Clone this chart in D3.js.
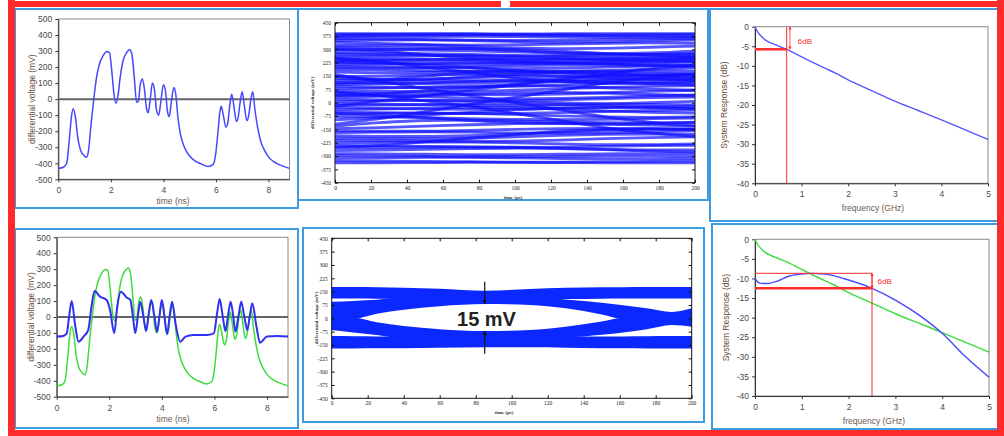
<!DOCTYPE html>
<html>
<head>
<meta charset="utf-8">
<script src="https://cdn.jsdelivr.net/npm/d3@7"></script>
<style>
  body { margin: 0; background: #fff; }
  svg { display: block; }
</style>
</head>
<body>
<script>
// ---------- data ----------
// unequalized differential waveform (time ns, mV)
var origT = [0,0.2,0.32,0.42,0.5,0.57,0.65,0.75,0.85,1.0,1.08,1.15,1.25,1.35,1.45,1.55,1.7,1.85,1.95,2.05,
  2.12,2.2,2.28,2.35,2.45,2.6,2.72,2.8,2.9,2.98,3.05,3.12,3.2,3.28,3.36,3.42,3.5,3.58,3.66,3.74,
  3.82,3.9,4.0,4.08,4.15,4.22,4.3,4.4,4.48,4.55,4.65,4.8,5.0,5.2,5.45,5.7,5.9,6.0,6.08,6.15,
  6.2,6.27,6.38,6.45,6.52,6.6,6.68,6.78,6.85,6.92,7.0,7.08,7.18,7.25,7.32,7.4,7.48,7.58,7.7,7.85,
  8.0,8.2,8.5,8.8];
var origV = [-432,-425,-400,-250,-110,-60,-110,-250,-320,-355,-362,-320,-150,0,130,210,270,298,290,150,
  30,-25,30,130,230,290,308,280,120,-20,-10,90,125,60,-60,-85,0,100,60,-70,
  -100,-20,90,50,-70,-110,-20,72,20,-110,-220,-300,-355,-385,-405,-420,-405,-330,-200,-80,
  -45,-90,-175,-150,-50,30,-40,-140,-110,-20,46,-40,-135,-100,-10,46,-60,-170,-260,-320,
  -360,-390,-415,-432];
// equalized waveform
var eqT = [0,0.25,0.38,0.47,0.57,0.7,0.83,1.02,1.2,1.32,1.44,1.65,1.9,2.03,2.19,2.3,2.44,2.67,2.8,2.9,
  2.99,3.1,3.18,3.3,3.4,3.5,3.6,3.72,3.82,3.92,4.0,4.1,4.2,4.3,4.39,4.52,4.7,4.9,5.2,5.7,
  5.98,6.1,6.2,6.32,6.42,6.52,6.62,6.72,6.8,6.92,7.02,7.14,7.25,7.35,7.44,7.6,7.73,8.0,8.4,8.8];
var eqV = [-123,-119,-103,0,100,-50,-155,-123,-82,60,163,128,107,44,-102,60,159,121,107,2,
  -102,20,96,0,-88,20,107,0,-92,20,107,0,-107,10,96,-40,-155,-123,-113,-113,
  -103,20,113,0,-88,10,96,0,-92,10,96,0,-82,10,86,-60,-161,-123,-119,-123];

// channel loss (GHz, dB)
var lossF = [0,0.05,0.1,0.2,0.35,0.5,0.68,0.85,1,1.25,1.5,1.75,2,2.5,3,3.5,4,4.5,5];
var lossDb = [0,-1.2,-2,-3.2,-4.2,-4.9,-5.77,-6.8,-7.7,-9.2,-10.6,-12,-13.6,-16.3,-19,-21.4,-23.8,-26.3,-28.8];
// equalized system response
var eqF = [0,0.1,0.25,0.45,0.7,1,1.2,1.5,2,2.5,3,3.5,4,4.5,5];
var eqDb = [-10,-11.2,-11.3,-10.8,-9.5,-8.86,-8.7,-8.9,-10.4,-12.5,-15.5,-19.3,-24,-30,-35.2];

// 6dB markers
var cut1 = { f: 0.68, db: -5.77, top: 0 };
var cut2 = { f: 2.5, db: -12.5, top: -8.68 };

// unequalized eye: traces sampled at eyeT (ps, mV)
var eyeT = [0,25,50,75,100,125,150,175,200];
var eyeTraces = [
  [389,389,388,388,387,388,389,389,388],
  [383,384,385,385,384,383,382,383,384],
  [376,378,380,381,380,378,376,375,376],
  [368,370,372,373,372,370,368,367,368],
  [360,358,355,352,351,353,356,359,362],
  [350,352,354,350,344,340,342,348,352],
  [322,324,325,324,326,330,334,336,334],
  [314,312,310,304,294,282,276,280,290],
  [304,300,296,292,286,278,272,270,274],
  [296,298,302,304,300,290,278,268,262],
  [282,280,276,272,266,260,256,254,256],
  [274,270,266,264,262,264,268,272,276],
  [262,264,266,262,256,248,242,240,244],
  [252,250,246,242,240,242,248,254,258],
  [244,240,236,232,228,224,220,222,228],
  [236,238,242,246,248,246,242,238,236],
  [226,222,218,216,218,222,226,230,232],
  [214,216,220,224,226,224,218,212,208],
  [204,202,198,194,192,194,200,206,212],
  [196,194,196,202,208,212,212,208,204],
  [186,184,180,176,174,176,182,188,194],
  [172,168,170,176,180,178,172,166,162],
  [158,132,150,166,172,170,162,154,148],
  [146,150,156,160,158,150,140,132,128],
  [136,130,126,124,128,136,146,154,158],
  [124,128,134,140,146,150,150,146,140],
  [112,110,108,110,116,124,130,134,136],
  [100,104,112,120,124,122,116,108,100],
  [90,86,84,86,92,100,108,114,118],
  [78,82,88,94,96,92,84,76,70],
  [66,64,62,64,70,78,86,92,96],
  [56,52,48,46,44,48,56,64,70],
  [44,40,34,26,22,24,30,38,44],
  [32,36,40,50,56,58,54,46,40],
  [20,16,12,10,12,16,22,28,32],
  [8,10,14,12,6,0,-6,-10,-12],
  [-4,-8,-12,-16,-18,-14,-8,0,8],
  [-16,-14,-10,-6,-6,-10,-18,-26,-30],
  [-28,-32,-36,-38,-36,-32,-28,-24,-20],
  [-40,-36,-30,-26,-28,-36,-46,-54,-58],
  [-52,-56,-60,-62,-60,-56,-50,-44,-40],
  [-64,-60,-58,-60,-66,-74,-80,-82,-80],
  [-78,-80,-84,-90,-94,-96,-94,-90,-86],
  [-132,-112,-100,-98,-102,-108,-112,-114,-112],
  [-146,-140,-132,-124,-118,-116,-120,-126,-132],
  [-158,-160,-160,-156,-150,-146,-144,-146,-150],
  [-168,-166,-164,-166,-170,-172,-170,-164,-158],
  [-200,-202,-204,-200,-192,-184,-178,-176,-178],
  [-212,-214,-216,-218,-216,-210,-202,-196,-192],
  [-226,-224,-222,-222,-226,-232,-236,-236,-232],
  [-240,-242,-246,-250,-252,-250,-246,-242,-240],
  [-254,-252,-250,-248,-250,-256,-262,-266,-266],
  [-286,-288,-290,-292,-292,-290,-288,-286,-286],
  [-298,-300,-302,-304,-304,-302,-300,-300,-302],
  [-312,-310,-308,-308,-310,-314,-316,-316,-314],
  [-326,-328,-330,-332,-334,-334,-332,-330,-328],
  [-338,-338,-337,-336,-336,-337,-338,-338,-338],
  [150,120,80,40,0,-40,-80,-110,-130],
  [-120,-90,-50,-10,30,70,110,140,160],
  [250,230,200,170,140,120,110,108,110],
  [-20,10,40,70,100,130,160,190,210],
  [60,40,10,-20,-60,-100,-140,-170,-190],
  [300,290,270,250,236,230,232,240,250],
  [-250,-240,-220,-200,-180,-160,-150,-146,-150],
  [230,226,214,198,180,166,158,156,160],
  [110,118,130,146,160,170,176,178,176],
  [40,50,66,84,104,118,126,128,124],
  [-60,-70,-84,-100,-112,-118,-120,-116,-110],
  [-96,-84,-70,-54,-40,-30,-26,-28,-34],
  [-186,-190,-190,-186,-178,-166,-156,-150,-148],
  [-270,-266,-262,-258,-256,-258,-264,-272,-278],
  [340,334,326,316,308,304,306,312,318]
];

// equalized eye: band edges at bandT (ps, mV)
var bandT     = [0,12,25,40,60,85,110,130,150,162,175,189,200];
var railHiTop = [176,176,175,172,166,155,165,172,174,175,176,176,176];
var railHiBot = [112,111,110,110,108,106,106,108,110,111,112,112,112];
var transHi   = [93,98,104,118,118,118,118,106,88,74,56,36,56];
var eyeTop    = [-3,-3,25,48,68,80,75,56,22,-3,-3,-3,-3];
var eyeBot    = [3,3,-22,-44,-62,-72,-66,-48,-18,3,3,3,3];
var transLo   = [-66,-80,-94,-112,-112,-112,-112,-108,-92,-80,-62,-38,-47];
var railLoTop = [-100,-101,-102,-103,-104,-104,-104,-104,-103,-102,-101,-100,-100];
var railLoBot = [-170,-170,-169,-168,-166,-163,-163,-165,-168,-169,-170,-170,-170];
var eyeMark = { t: 85, label: "15 mV", tailTop: 206, tailBot: -200 };

// ticks
var waveTicksX = [0,2,4,6,8];
var waveTicksY = [500,400,300,200,100,0,-100,-200,-300,-400,-500];
var dbTicksY = [0,-5,-10,-15,-20,-25,-30,-35,-40];
var freqTicks = [0,1,2,3,4,5];
var eyeTicksY = [450,375,300,225,150,75,0,-75,-150,-225,-300,-375,-450];
var eyeTicksX = [0,20,40,60,80,100,120,140,160,180,200];

// ---------- drawing ----------
var svg = d3.select("body").append("svg").attr("width", 1004).attr("height", 436);
var sans = "'Liberation Sans', Arial, sans-serif";
var serif = "'Liberation Serif', 'Times New Roman', serif";
var RED = "#ff2a2a";

var defs = svg.append("defs");
function marker(id, color) {
  defs.append("marker").attr("id", id)
    .attr("viewBox", "0 0 10 10").attr("refX", 9).attr("refY", 5)
    .attr("markerWidth", 4).attr("markerHeight", 4)
    .attr("orient", "auto-start-reverse")
    .append("path").attr("d", "M0,0L10,5L0,10z").attr("fill", color);
}
marker("arrK", "#111");
marker("arrR", RED);

// light blue panel frames
var frames = [[15,9,283,199],[298,9,410,191],[710,9,290,212],[15,229,283,199],[303,228,401,194],[712,224,288,205]];
svg.selectAll(".frame").data(frames).enter().append("rect")
  .attr("class", "frame")
  .attr("x", function(d){ return d[0]; }).attr("y", function(d){ return d[1]; })
  .attr("width", function(d){ return d[2]; }).attr("height", function(d){ return d[3]; })
  .attr("fill", "none").attr("stroke", "#3d9be0").attr("stroke-width", 2);

var fmt = function(d){ return String(d); };

// excel style panel
function excelPanel(p, xd, yd, xt, yt, xTitle, yTitle) {
  var x = d3.scaleLinear().domain(xd).range([p.l, p.r]);
  var y = d3.scaleLinear().domain(yd).range([p.b, p.t]);
  var g = svg.append("g");
  g.append("rect").attr("x", p.l).attr("y", p.t).attr("width", p.r - p.l).attr("height", p.b - p.t)
    .attr("fill", "#fff").attr("stroke", "#8a8a8a");
  var ax = g.append("g").attr("transform", "translate(0," + p.b + ")")
    .call(d3.axisBottom(x).tickValues(xt).tickFormat(fmt).tickSizeInner(3).tickSizeOuter(0).tickPadding(5));
  var ay = g.append("g").attr("transform", "translate(" + p.l + ",0)")
    .call(d3.axisLeft(y).tickValues(yt).tickFormat(fmt).tickSizeInner(3).tickSizeOuter(0).tickPadding(3));
  [ax, ay].forEach(function(a) {
    a.attr("font-size", 8.5).attr("font-family", sans);
    a.selectAll("path, line").attr("stroke", "#333");
    a.selectAll("text").attr("fill", "#4a4a4a");
  });
  g.append("text").attr("x", p.xtx).attr("y", p.xty).attr("text-anchor", "middle")
    .attr("font-size", 8.5).attr("font-family", sans).attr("fill", "#6a5a52").text(xTitle);
  g.append("text").attr("transform", "translate(" + p.ytx + "," + ((p.t + p.b) / 2) + ") rotate(-90)")
    .attr("text-anchor", "middle").attr("dy", "0.35em")
    .attr("font-size", 8.5).attr("font-family", sans).attr("fill", "#6e4e3e").text(yTitle);
  return { g: g, x: x, y: y };
}

// matlab style eye panel
function eyePanel(p) {
  var x = d3.scaleLinear().domain([0, 200]).range([p.l, p.r]);
  var y = d3.scaleLinear().domain([-450, 450]).range([p.b, p.t]);
  var g = svg.append("g");
  var marks = g.append("g");
  g.append("rect").attr("x", p.l).attr("y", p.t).attr("width", p.r - p.l).attr("height", p.b - p.t)
    .attr("fill", "none").attr("stroke", "#111");
  var axes = [
    g.append("g").attr("transform", "translate(0," + p.b + ")")
      .call(d3.axisBottom(x).tickValues(eyeTicksX).tickFormat(fmt).tickSizeInner(-3).tickSizeOuter(0).tickPadding(3)),
    g.append("g").attr("transform", "translate(0," + p.t + ")")
      .call(d3.axisTop(x).tickValues(eyeTicksX).tickFormat("").tickSizeInner(-3).tickSizeOuter(0)),
    g.append("g").attr("transform", "translate(" + p.l + ",0)")
      .call(d3.axisLeft(y).tickValues(eyeTicksY).tickFormat(fmt).tickSizeInner(-3).tickSizeOuter(0).tickPadding(4)),
    g.append("g").attr("transform", "translate(" + p.r + ",0)")
      .call(d3.axisRight(y).tickValues(eyeTicksY).tickFormat("").tickSizeInner(-3).tickSizeOuter(0))
  ];
  axes.forEach(function(a) {
    a.attr("font-size", 5.5).attr("font-family", serif);
    a.selectAll("path").attr("stroke", "none");
    a.selectAll("line").attr("stroke", "#111");
    a.selectAll("text").attr("fill", "#222");
  });
  g.append("text").attr("x", p.xtx).attr("y", p.xty).attr("text-anchor", "middle")
    .attr("font-size", 5).attr("font-weight", "bold").attr("font-family", serif).attr("fill", "#333").text("time (ps)");
  g.append("text").attr("transform", "translate(" + p.ytx + "," + p.ytc + ") rotate(-90)")
    .attr("text-anchor", "middle").attr("dy", "0.35em")
    .attr("font-size", 5).attr("font-weight", "bold").attr("font-family", serif).attr("fill", "#333")
    .text("differential voltage (mV)");
  return { g: marks, x: x, y: y };
}

function lineOf(xs, ys, x, y) {
  return d3.line().x(function(d, i){ return x(xs[i]); }).y(function(d, i){ return y(ys[i]); })
    .curve(d3.curveMonotoneX)(xs);
}

// ---- top left: original waveform
var p1 = excelPanel({ l: 58.3, r: 289.5, t: 19, b: 179.3, xtx: 173, xty: 204, ytx: 32 },
  [0, 8.8], [-500, 500], waveTicksX, waveTicksY, "time (ns)", "differential voltage (mV)");
p1.g.append("line").attr("x1", p1.x(0)).attr("x2", p1.x(8.8)).attr("y1", p1.y(0)).attr("y2", p1.y(0))
  .attr("stroke", "#666").attr("stroke-width", 2);
p1.g.append("path").attr("d", lineOf(origT, origV, p1.x, p1.y))
  .attr("fill", "none").attr("stroke", "#4646ff").attr("stroke-width", 1.5);

// ---- bottom left: original + equalized
var p4 = excelPanel({ l: 56.7, r: 288, t: 237.3, b: 396.7, xtx: 173, xty: 422, ytx: 31 },
  [0, 8.8], [-500, 500], waveTicksX, waveTicksY, "time (ns)", "differential voltage (mV)");
p4.g.append("line").attr("x1", p4.x(0)).attr("x2", p4.x(8.8)).attr("y1", p4.y(0)).attr("y2", p4.y(0))
  .attr("stroke", "#666").attr("stroke-width", 2);
p4.g.append("path").attr("d", lineOf(origT, origV, p4.x, p4.y))
  .attr("fill", "none").attr("stroke", "#3cdc3c").attr("stroke-width", 1.5);
p4.g.append("path").attr("d", lineOf(eqT, eqV, p4.x, p4.y))
  .attr("fill", "none").attr("stroke", "#3030f0").attr("stroke-width", 2);

// ---- top right: channel response
var p3 = excelPanel({ l: 755, r: 988, t: 26.7, b: 183.3, xtx: 873, xty: 211, ytx: 724 },
  [0, 5], [-40, 0], freqTicks, dbTicksY, "frequency (GHz)", "System Response (dB)");
p3.g.append("path").attr("d", lineOf(lossF, lossDb, p3.x, p3.y))
  .attr("fill", "none").attr("stroke", "#5858ff").attr("stroke-width", 1.4);
p3.g.append("line").attr("x1", p3.x(cut1.f)).attr("x2", p3.x(cut1.f)).attr("y1", p3.y(cut1.top)).attr("y2", p3.y(-40))
  .attr("stroke", RED).attr("stroke-width", 1);
p3.g.append("line").attr("x1", p3.x(0)).attr("x2", p3.x(cut1.f)).attr("y1", p3.y(cut1.db)).attr("y2", p3.y(cut1.db))
  .attr("stroke", RED).attr("stroke-width", 2.5);
p3.g.append("line").attr("x1", p3.x(cut1.f + 0.07)).attr("x2", p3.x(cut1.f + 0.07))
  .attr("y1", p3.y(cut1.top)).attr("y2", p3.y(cut1.db))
  .attr("stroke", RED).attr("stroke-width", 0.8)
  .attr("marker-start", "url(#arrR)").attr("marker-end", "url(#arrR)");
p3.g.append("text").attr("x", p3.x(1.07)).attr("y", p3.y(-3.65)).attr("dy", "0.35em").attr("text-anchor", "middle")
  .attr("font-size", 8).attr("font-family", sans).attr("fill", RED).text("6dB");

// ---- bottom right: equalized response
var p6 = excelPanel({ l: 755, r: 989, t: 239.3, b: 396, xtx: 874, xty: 424, ytx: 726 },
  [0, 5], [-40, 0], freqTicks, dbTicksY, "frequency (GHz)", "System Response (dB)");
p6.g.append("path").attr("d", lineOf(lossF, lossDb, p6.x, p6.y))
  .attr("fill", "none").attr("stroke", "#3cdc3c").attr("stroke-width", 1.4);
p6.g.append("path").attr("d", lineOf(eqF, eqDb, p6.x, p6.y))
  .attr("fill", "none").attr("stroke", "#4a4aff").attr("stroke-width", 1.4);
p6.g.append("line").attr("x1", p6.x(0)).attr("x2", p6.x(cut2.f)).attr("y1", p6.y(cut2.top)).attr("y2", p6.y(cut2.top))
  .attr("stroke", RED).attr("stroke-width", 1);
p6.g.append("line").attr("x1", p6.x(cut2.f)).attr("x2", p6.x(cut2.f)).attr("y1", p6.y(cut2.top)).attr("y2", p6.y(-40))
  .attr("stroke", RED).attr("stroke-width", 1);
p6.g.append("line").attr("x1", p6.x(0)).attr("x2", p6.x(cut2.f)).attr("y1", p6.y(cut2.db)).attr("y2", p6.y(cut2.db))
  .attr("stroke", RED).attr("stroke-width", 2.5);
p6.g.append("line").attr("x1", p6.x(cut2.f)).attr("x2", p6.x(cut2.f))
  .attr("y1", p6.y(cut2.top)).attr("y2", p6.y(cut2.db))
  .attr("stroke", RED).attr("stroke-width", 0.8)
  .attr("marker-start", "url(#arrR)").attr("marker-end", "url(#arrR)");
p6.g.append("text").attr("x", p6.x(2.77)).attr("y", p6.y(-10.7)).attr("dy", "0.35em").attr("text-anchor", "middle")
  .attr("font-size", 8).attr("font-family", sans).attr("fill", RED).text("6dB");

// ---- top middle: unequalized eye
var p2 = eyePanel({ l: 335, r: 695, t: 22.7, b: 182.7, xtx: 513, xty: 198.5, ytx: 312, ytc: 103 });
p2.g.selectAll(".trace").data(eyeTraces).enter().append("path")
  .attr("class", "trace")
  .attr("d", function(tr) { return lineOf(eyeT, tr, p2.x, p2.y); })
  .attr("fill", "none").attr("stroke", "#1010ff").attr("stroke-opacity", 0.7).attr("stroke-width", 2.8);

// ---- bottom middle: equalized eye
var p5 = eyePanel({ l: 331.7, r: 691.7, t: 238.3, b: 398.3, xtx: 504, xty: 414, ytx: 316, ytc: 318 });
function band(hi, lo) {
  return d3.area().x(function(d, i){ return p5.x(bandT[i]); })
    .y0(function(d, i){ return p5.y(lo[i]); }).y1(function(d, i){ return p5.y(hi[i]); })
    .curve(d3.curveMonotoneX)(bandT);
}
[[railHiTop, railHiBot], [transHi, eyeTop], [eyeBot, transLo], [railLoTop, railLoBot]].forEach(function(b) {
  p5.g.append("path").attr("d", band(b[0], b[1])).attr("fill", "#0a28ff");
});
var ei = bandT.indexOf(eyeMark.t);
p5.g.append("line").attr("x1", p5.x(eyeMark.t)).attr("x2", p5.x(eyeMark.t))
  .attr("y1", p5.y(eyeMark.tailTop)).attr("y2", p5.y(eyeTop[ei]))
  .attr("stroke", "#111").attr("stroke-width", 1.2).attr("marker-end", "url(#arrK)");
p5.g.append("line").attr("x1", p5.x(eyeMark.t)).attr("x2", p5.x(eyeMark.t))
  .attr("y1", p5.y(eyeMark.tailBot)).attr("y2", p5.y(eyeBot[ei]))
  .attr("stroke", "#111").attr("stroke-width", 1.2).attr("marker-end", "url(#arrK)");
p5.g.append("text").attr("x", p5.x(86)).attr("y", p5.y(0) + 8).attr("text-anchor", "middle")
  .attr("font-size", 20).attr("font-weight", "bold").attr("font-family", sans).attr("fill", "#222")
  .text(eyeMark.label);

// ---- outer red frame
var red = svg.append("g").attr("fill", RED);
red.append("rect").attr("x", 8).attr("y", 1).attr("width", 493).attr("height", 6);
red.append("rect").attr("x", 510).attr("y", 1).attr("width", 494).attr("height", 6);
red.append("rect").attr("x", 8).attr("y", 0).attr("width", 7).attr("height", 436);
red.append("rect").attr("x", 997).attr("y", 0).attr("width", 7).attr("height", 436);
red.append("rect").attr("x", 8).attr("y", 430).attr("width", 996).attr("height", 6);
</script>
</body>
</html>
